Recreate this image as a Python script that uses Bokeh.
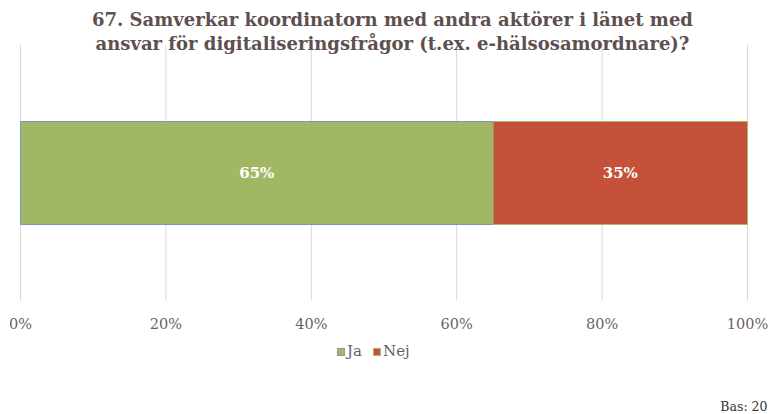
from bokeh.plotting import figure
from bokeh.models import ColumnDataSource, Range1d, Legend, LegendItem
from bokeh.core.properties import value
from bokeh.embed import file_html
from bokeh.resources import INLINE

title_lines = ["67. Samverkar koordinatorn med andra aktörer i länet med",
               "ansvar för digitaliseringsfrågor (t.ex. e-hälsosamordnare)?"]
categories = ["Ja", "Nej"]
values = [65, 35]
fill_colors = ["#A2B763", "#C5513A"]
line_colors = ["#7A96B8", "#AABA62"]
ticks = [0, 20, 40, 60, 80, 100]
tick_labels = ["0%", "20%", "40%", "60%", "80%", "100%"]
base_text = "Bas: 20"

SERIF = value("DejaVu Serif")
W, H = 768, 414
PLOT_L, PLOT_R = 20, 747          # pixel positions of 0% and 100%
GRID_TOP, GRID_BOT = 44, 300      # vertical extent of the grid (px from top)
BAR_TOP, BAR_BOT = 121, 224

span = (PLOT_R - PLOT_L) / 100.0
x_start = -PLOT_L / span
x_end = 100 + (W - PLOT_R) / span
title_x = (392 - PLOT_L) / span

left = []
acc = 0
for v in values:
    left.append(acc)
    acc += v
right = [l + v for l, v in zip(left, values)]
mid = [(l + r) / 2 for l, r in zip(left, right)]

bar_y = (BAR_TOP + BAR_BOT) / 2
src = ColumnDataSource(dict(cat=categories, left=left, right=right, mid=mid,
                            y=[bar_y] * len(values),
                            lab=[f"{v}%" for v in values],
                            fill=fill_colors, line=line_colors))

p = figure(width=W, height=H, output_backend="svg", toolbar_location=None,
           x_range=Range1d(x_start, x_end), y_range=Range1d(H, 0),
           x_axis_location=None, y_axis_location=None,
           min_border=0, min_border_left=0, min_border_right=0,
           min_border_top=0, min_border_bottom=0)
p.outline_line_color = None
p.xgrid.grid_line_color = None
p.ygrid.grid_line_color = None
p.background_fill_color = "white"

p.segment(x0=ticks, x1=ticks, y0=[GRID_TOP] * len(ticks), y1=[GRID_BOT] * len(ticks),
          line_color="#D9D9D9", line_width=1)

r = p.hbar(y="y", left="left", right="right", height=BAR_BOT - BAR_TOP, source=src,
           fill_color="fill", line_color="line", line_width=1)

p.text(x="mid", y="y", text="lab", source=src, text_align="center",
       text_baseline="middle", text_color="white", text_font=SERIF,
       text_font_style="bold", text_font_size="15px")

p.text(x=ticks, y=[323] * len(ticks), text=tick_labels, text_align="center",
       text_baseline="middle", text_color="#6B5F5F", text_font=SERIF,
       text_font_size="14.5px")

p.text(x=[title_x, title_x], y=[19, 43], text=title_lines, text_align="center",
       text_baseline="middle", text_color="#5E5050", text_font=SERIF,
       text_font_style="bold", text_font_size="18px")

p.text(x=[x_end], y=[406], text=[base_text], text_align="right",
       text_baseline="middle", text_color="#333333", text_font=SERIF,
       text_font_size="12.5px", x_offset=-1)

items = [LegendItem(label=c, renderers=[r], index=i) for i, c in enumerate(categories)]
legend = Legend(items=items, orientation="horizontal", location=(336, 54),
                glyph_width=9, glyph_height=9, label_standoff=2, spacing=5,
                padding=0, margin=0, border_line_color=None,
                background_fill_alpha=0, label_height=16,
                label_text_font="DejaVu Serif", label_text_font_size="15px",
                label_text_color="#6B5F5F")
p.add_layout(legend, "center")

open("out.html", "w").write(file_html(p, INLINE))
